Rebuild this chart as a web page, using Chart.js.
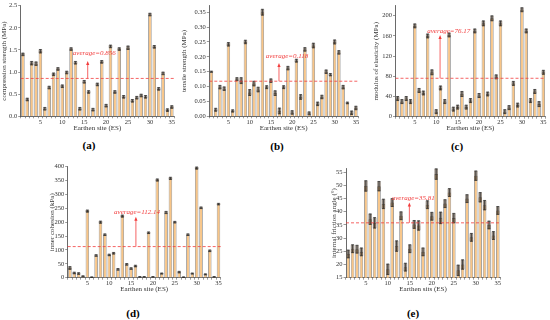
<!DOCTYPE html>
<html>
<head>
<meta charset="utf-8">
<script src="https://cdn.jsdelivr.net/npm/chart.js@4.4.1/dist/chart.umd.min.js"></script>
<style>
  body { margin: 0; background: #fff; width: 550px; height: 320px; overflow: hidden; position: relative; }
  canvas { position: absolute; }
  .tag { position: absolute; font: bold 11px "Liberation Serif", serif; color: #000; transform: translate(-50%, -50%); }
</style>
</head>
<body>
<canvas id="cA"></canvas>
<canvas id="cB"></canvas>
<canvas id="cC"></canvas>
<canvas id="cD"></canvas>
<canvas id="cE"></canvas>
<div class="tag" style="left:89px;top:145px">(a)</div>
<div class="tag" style="left:277px;top:146px">(b)</div>
<div class="tag" style="left:457px;top:146px">(c)</div>
<div class="tag" style="left:133px;top:313px">(d)</div>
<div class="tag" style="left:413px;top:313px">(e)</div>
<script>
  // earthen sites 1..35
  const sites = ["1","2","3","4","5","6","7","8","9","10","11","12","13","14","15","16","17","18",
    "19","20","21","22","23","24","25","26","27","28","29","30","31","32","33","34","35"];

  const compression = [1.40,0.38,1.20,1.19,1.47,0.17,0.65,0.95,1.07,0.68,0.99,1.52,1.21,0.17,0.78,0.55,0.15,0.72,
    1.23,0.24,1.58,0.55,1.52,0.44,1.55,0.35,0.42,0.47,0.44,2.30,1.57,0.62,0.97,0.14,0.21];
  const compressionErr = [0.03,0.03,0.04,0.04,0.04,0.03,0.03,0.03,0.03,0.03,0.03,0.03,0.03,0.03,0.03,0.03,0.03,0.03,
    0.03,0.03,0.03,0.03,0.03,0.03,0.04,0.03,0.03,0.03,0.03,0.03,0.03,0.03,0.03,0.03,0.03];

  const tensile = [0.150,0.022,0.098,0.093,0.242,0.018,0.125,0.120,0.250,0.080,0.110,0.090,0.350,0.098,0.120,0.078,0.018,0.098,
    0.162,0.013,0.187,0.065,0.225,0.010,0.238,0.042,0.065,0.150,0.140,0.250,0.215,0.098,0.045,0.012,0.028];
  const tensileErr = [0.002,0.005,0.006,0.006,0.006,0.004,0.005,0.010,0.006,0.010,0.008,0.008,0.010,0.005,0.006,0.008,0.010,0.005,
    0.006,0.006,0.005,0.008,0.006,0.005,0.008,0.006,0.006,0.006,0.004,0.007,0.006,0.006,0.003,0.006,0.006];

  const modulus = [36,30,36,30,180,52,47,160,88,10,57,30,162,15,19,45,19,32,
    170,42,185,45,195,79,185,10,18,66,23,212,170,32,50,25,88];
  const modulusErr = [4,4,4,4,4,4,4,4,5,4,4,4,4,4,4,5,4,4,4,4,5,4,5,4,5,4,4,4,4,4,4,4,4,5,4];

  const cohesion = [35,17,15,5,240,2,80,200,155,82,88,30,222,48,33,42,3,3,
    162,3,352,15,235,358,200,20,2,155,15,395,252,12,97,3,265];
  const cohesionErr = [5,3,3,2,4,1,3,4,3,3,3,3,4,3,3,3,1,1,3,1,4,2,4,4,3,3,1,3,2,4,3,2,3,1,3];

  const friction = [24,26,25.8,24.8,49.8,37.2,35.8,49.7,43,18.2,43.5,27,38.5,19,26,35.2,34.8,24.8,
    42.7,38.3,54.3,37.7,43.1,47.3,37.6,17.8,20,45,30.3,53.7,45.5,42.5,35,31,40.5];
  const frictionErr = [1.5,1.5,1.5,1.5,2,2,2,1.8,1.8,2,1.5,2,1.5,1.5,1.5,1.5,1.8,1.5,
    1.5,1.5,2,2.2,1.5,1.5,1.8,2,1.8,1.5,1.5,1.8,1.8,1.8,1.5,1.5,1.5];

  const SERIF = '"Liberation Serif", "DejaVu Serif", serif';

  // error bars + average line, arrow and label
  const decor = {
    id: "decor",
    afterDatasetsDraw(chart, args, o) {
      const ctx = chart.ctx, xs = chart.scales.x, ys = chart.scales.y, area = chart.chartArea;
      const meta = chart.getDatasetMeta(0);
      ctx.save();
      meta.data.forEach((bar, i) => {
        const v = o.values[i], e = o.errs[i];
        const hw = bar.width / 2;
        const yt = ys.getPixelForValue(v + e);
        const yb = ys.getPixelForValue(Math.max(v - e, ys.min));
        ctx.fillStyle = "rgba(85,70,55,0.6)";
        ctx.fillRect(bar.x - hw, yt, hw * 2, yb - yt);
        ctx.strokeStyle = "#222";
        ctx.lineWidth = 0.7;
        ctx.beginPath();
        ctx.moveTo(bar.x, yt); ctx.lineTo(bar.x, yb);
        ctx.moveTo(bar.x - hw * 0.8, yt); ctx.lineTo(bar.x + hw * 0.8, yt);
        ctx.moveTo(bar.x - hw * 0.8, yb); ctx.lineTo(bar.x + hw * 0.8, yb);
        ctx.stroke();
      });

      const red = "#f23c3c";
      const ya = ys.getPixelForValue(o.avg);
      ctx.strokeStyle = red;
      ctx.lineWidth = 0.8;
      ctx.setLineDash([3, 2]);
      ctx.beginPath();
      ctx.moveTo(area.left, ya); ctx.lineTo(area.right, ya);
      ctx.stroke();
      ctx.setLineDash([]);

      const ax = xs.getPixelForValue(o.arrowAt);
      const ay = ys.getPixelForValue(o.arrowTop);
      ctx.beginPath();
      ctx.moveTo(ax, ya); ctx.lineTo(ax, ay + 3);
      ctx.stroke();
      ctx.fillStyle = red;
      ctx.beginPath();
      ctx.moveTo(ax, ay); ctx.lineTo(ax - 1.6, ay + 4); ctx.lineTo(ax + 1.6, ay + 4);
      ctx.closePath();
      ctx.fill();

      ctx.font = "italic 7px " + SERIF;
      ctx.textAlign = "left";
      ctx.textBaseline = "middle";
      ctx.fillText(o.text, xs.getPixelForValue(o.textAt), ys.getPixelForValue(o.textY));
      ctx.restore();
    },
  };

  function makeChart(id, box, data, axis, note) {
    const c = document.getElementById(id);
    const w = box.R - box.x + 5;
    const h = box.B - box.y + 15;
    c.width = Math.ceil(w);
    c.height = Math.ceil(h);
    c.style.left = box.x + "px";
    c.style.top = box.y + "px";
    const tickFont = { family: SERIF, size: 6.5 };
    const titleFont = { family: SERIF, size: 7 };

    return new Chart(c, {
      type: "bar",
      data: {
        labels: sites,
        datasets: [{
          data: data.values,
          backgroundColor: "#f8c587",
          borderColor: "#808080",
          borderWidth: { left: 0.8, right: 0.8, top: 0.8, bottom: 0 },
          borderSkipped: false,
          barPercentage: 0.8,
          categoryPercentage: 1,
        }],
      },
      options: {
        responsive: false,
        animation: false,
        events: [],
        layout: { padding: { top: box.T - box.y, right: c.width - (box.R - box.x), left: 0, bottom: 0 } },
        plugins: {
          legend: { display: false },
          tooltip: { enabled: false },
          decor: Object.assign({ values: data.values, errs: data.errs }, note),
        },
        scales: {
          x: {
            offset: true,
            grid: { display: true, drawOnChartArea: false, tickLength: 2, color: "#555", lineWidth: 0.6 },
            border: { color: "#444", width: 0.8 },
            ticks: {
              autoSkip: false, maxRotation: 0, padding: 0, color: "#333", font: tickFont,
              callback: function (v, i) { return (i + 1) % 5 === 0 ? this.getLabelForValue(v) : ""; },
            },
            title: { display: true, text: axis.xTitle, color: "#333", font: titleFont, padding: 0 },
            afterFit: (s) => { s.height = c.height - (box.B - box.y); },
          },
          y: {
            min: axis.min, max: axis.max,
            grid: { display: true, drawOnChartArea: false, tickLength: 2.5, color: "#555", lineWidth: 0.6 },
            border: { color: "#444", width: 0.8 },
            ticks: {
              stepSize: axis.step, includeBounds: false, padding: 1, color: "#333", font: tickFont,
              callback: (v) => v.toFixed(axis.dec),
            },
            title: { display: true, text: axis.yTitle, color: "#333", font: titleFont, padding: 0 },
            afterFit: (s) => { s.width = box.L - box.x; },
          },
        },
      },
      plugins: [decor],
    });
  }

  makeChart("cA", { x: 0, y: 0, L: 20.7, R: 174, T: 5.7, B: 116.3 },
    { values: compression, errs: compressionErr },
    { min: 0, max: 2.5, step: 0.5, dec: 1, yTitle: "compression strength (MPa)", xTitle: "Earthen site (ES)" },
    { avg: 0.856, arrowAt: 14.8, arrowTop: 1.25, text: "average=0.856", textAt: 11.4, textY: 1.43 });

  makeChart("cB", { x: 180, y: 0, L: 209.3, R: 358, T: 5.7, B: 116.3 },
    { values: tensile, errs: tensileErr },
    { min: 0, max: 0.372, step: 0.05, dec: 2, yTitle: "tensile strength (MPa)", xTitle: "Earthen site (ES)" },
    { avg: 0.118, arrowAt: 15.9, arrowTop: 0.179, text: "average=0.118", textAt: 12.8, textY: 0.202 });

  makeChart("cC", { x: 371.5, y: 0, L: 395, R: 545, T: 5.7, B: 116.7 },
    { values: modulus, errs: modulusErr },
    { min: 0, max: 220, step: 20, dec: 0, yTitle: "modulus of elasticity (MPa)", xTitle: "Earthen site (ES)" },
    { avg: 76.17, arrowAt: 9.9, arrowTop: 162, text: "average=76.17", textAt: 6.9, textY: 170 });

  makeChart("cD", { x: 48, y: 161, L: 67.7, R: 220.7, T: 166.7, B: 277.7 },
    { values: cohesion, errs: cohesionErr },
    { min: 0, max: 400, step: 50, dec: 0, yTitle: "inner cohesion (kPa)", xTitle: "Earthen site (ES)" },
    { avg: 112.14, arrowAt: 15.1, arrowTop: 220, text: "average=112.14", textAt: 10.1, textY: 236 });

  makeChart("cE", { x: 330, y: 162, L: 346, R: 500, T: 168.3, B: 277.7 },
    { values: friction, errs: frictionErr },
    { min: 15, max: 56.5, step: 5, dec: 0, yTitle: "internal friction angle (°)", xTitle: "Earthen sits (ES)" },
    { avg: 35.81, arrowAt: 13.9, arrowTop: 43.5, text: "average=35.81", textAt: 9.9, textY: 45 });
</script>
</body>
</html>
